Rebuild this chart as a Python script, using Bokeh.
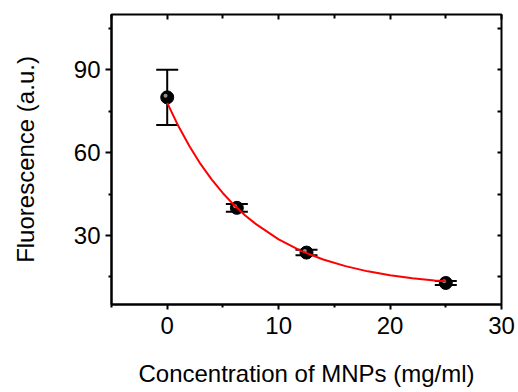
from bokeh.plotting import figure
from bokeh.models import (ColumnDataSource, Whisker, TeeHead, LinearAxis, FixedTicker,
                          Range1d)
from bokeh.transform import dodge
from bokeh.embed import file_html
from bokeh.resources import INLINE

# ---- data ----
conc = [0, 6.25, 12.5, 25]
fluor = [80, 40, 23.8, 12.8]
err = [10, 1.4, 1.0, 0.7]

fit_x = [0, 1, 2, 3, 4, 5, 6, 7, 8, 10, 12, 14, 16, 18, 20, 22, 24, 25]
fit_y = [78.0, 69.6, 62.3, 55.8, 50.2, 45.3, 41.0, 37.2, 34.0, 28.6, 24.4,
         21.3, 18.9, 17.0, 15.6, 14.5, 13.7, 13.4]

x_major = [0, 10, 20, 30]
x_minor = [-5, 5, 15, 25]
y_major = [30, 60, 90]
y_minor = [15, 45, 75, 105]

x_title = "Concentration of MNPs (mg/ml)"
y_title = "Fluorescence (a.u.)"

FONT = "Liberation Sans"

p = figure(width=518, height=392, output_backend="svg", toolbar_location=None,
           x_range=Range1d(-5, 30), y_range=Range1d(5, 110),
           min_border_left=111, min_border_right=17, min_border_top=14,
           min_border_bottom=88)
p.background_fill_color = "white"
p.border_fill_color = "white"
p.outline_line_color = "black"
p.outline_line_width = 2
p.xgrid.visible = False
p.ygrid.visible = False

for ax in (p.xaxis[0], p.yaxis[0]):
    ax.axis_line_width = 2
    ax.axis_line_color = "black"
    ax.major_tick_line_width = 2
    ax.minor_tick_line_width = 2
    ax.major_tick_in = 0
    ax.minor_tick_in = 0
    ax.major_label_text_font = FONT
    ax.major_label_text_font_size = "24px"
    ax.major_label_text_color = "black"
    ax.axis_label_text_font = FONT
    ax.axis_label_text_font_size = "24px"
    ax.axis_label_text_font_style = "normal"
    ax.axis_label_text_color = "black"

p.xaxis[0].ticker = FixedTicker(ticks=x_major, minor_ticks=x_minor)
p.xaxis[0].major_tick_out = 5
p.xaxis[0].minor_tick_out = 3
p.xaxis[0].major_label_standoff = 7
p.xaxis[0].axis_label = x_title
p.xaxis[0].axis_label_standoff = 23

p.yaxis[0].ticker = FixedTicker(ticks=y_major, minor_ticks=y_minor)
p.yaxis[0].major_tick_out = 6
p.yaxis[0].minor_tick_out = 3
p.yaxis[0].major_label_standoff = 5
p.yaxis[0].major_label_orientation = "horizontal"
p.yaxis[0].axis_label = y_title
p.yaxis[0].axis_label_standoff = 32

# mirrored inward ticks on top and right (no labels)
top = LinearAxis(ticker=FixedTicker(ticks=x_major, minor_ticks=x_minor),
                 major_tick_in=5, major_tick_out=0, minor_tick_in=4, minor_tick_out=0,
                 major_tick_line_width=2, minor_tick_line_width=2,
                 axis_line_color=None, major_label_standoff=0,
                 major_label_overrides={t: "" for t in x_major})
right = LinearAxis(ticker=FixedTicker(ticks=y_major, minor_ticks=y_minor),
                   major_tick_in=4, major_tick_out=0, minor_tick_in=4, minor_tick_out=0,
                   major_tick_line_width=2, minor_tick_line_width=2,
                   axis_line_color=None, major_label_standoff=0,
                   major_label_overrides={t: "" for t in y_major})
p.add_layout(top, "above")
p.add_layout(right, "right")

src = ColumnDataSource(dict(x=conc, y=fluor,
                            upper=[f + e for f, e in zip(fluor, err)],
                            lower=[f - e for f, e in zip(fluor, err)]))

wh = Whisker(base="x", upper="upper", lower="lower", source=src,
             line_color="black", line_width=2, level="underlay",
             upper_head=TeeHead(size=22, line_width=2, line_color="black"),
             lower_head=TeeHead(size=22, line_width=2, line_color="black"))
p.add_layout(wh)

p.scatter("x", "y", source=src, size=13, fill_color="black", line_color="black")
p.scatter(dodge("x", -0.15, range=p.x_range), dodge("y", 0.6, range=p.y_range),
          source=src, size=4, fill_color="#a0a0a0", line_color=None, fill_alpha=0.9)

fit_src = ColumnDataSource(dict(x=fit_x, y=fit_y))
p.line("x", "y", source=fit_src, line_color="#ff0000", line_width=2)

open("out.html", "w").write(file_html(p, INLINE))
